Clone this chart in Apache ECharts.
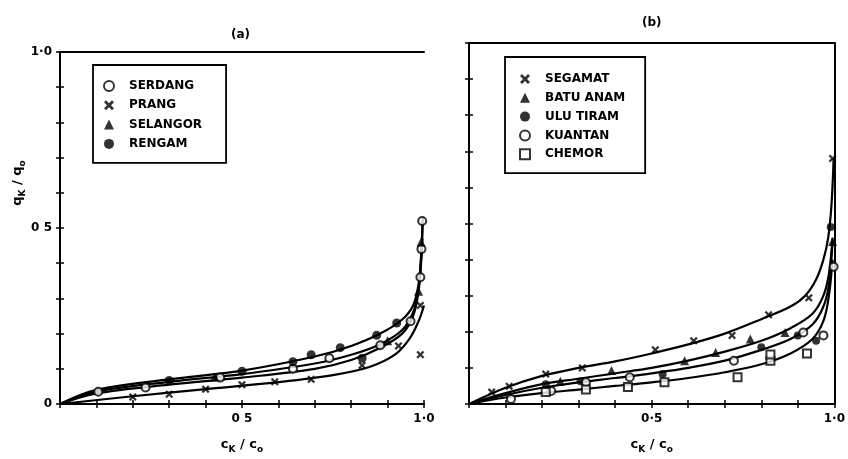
<!DOCTYPE html>
<html>
<head>
<meta charset="utf-8">
<script src="https://cdn.jsdelivr.net/npm/echarts@6/dist/echarts.min.js"></script>
<style>html,body{margin:0;padding:0;background:#fff;}#c{width:848px;height:459px;}</style>
</head>
<body>
<div id="c"></div>
<script>
// ---------- data ----------
const tickValues = [0, 0.5, 1];
const aYTickLabels = ['0', '0 5', '1·0'];
const aXTickLabels = ['', '0 5', '1·0'];
const bXTickLabels = ['', '0·5', '1·0'];
const bYTickLabels = ['', '', ''];

// panel (a) measured points
const serdang = [[0.105,0.035],[0.235,0.047],[0.44,0.075],[0.64,0.10],[0.74,0.13],[0.88,0.167],[0.963,0.235],[0.99,0.36],[0.993,0.44],[0.995,0.52]];
const prang = [[0.2,0.02],[0.3,0.028],[0.4,0.042],[0.5,0.055],[0.59,0.063],[0.69,0.07],[0.83,0.11],[0.93,0.165],[0.99,0.14],[0.99,0.28]];
const selangor = [[0.425,0.077],[0.9,0.18],[0.985,0.32],[0.992,0.46]];
const rengam = [[0.3,0.067],[0.5,0.093],[0.64,0.12],[0.69,0.14],[0.77,0.16],[0.83,0.13],[0.87,0.195],[0.925,0.23]];
// panel (a) fitted curves
const curveRengam = [[0,0],[0.1,0.04],[0.3,0.07],[0.5,0.095],[0.7,0.135],[0.8,0.165],[0.88,0.2],[0.94,0.24],[0.97,0.28],[0.985,0.34],[0.992,0.42],[0.996,0.52]];
const curveSerdang = [[0,0],[0.1,0.035],[0.3,0.063],[0.5,0.085],[0.7,0.115],[0.8,0.14],[0.88,0.17],[0.94,0.21],[0.97,0.26],[0.985,0.33],[0.993,0.43],[0.997,0.53]];
const curveSelangor = [[0,0],[0.1,0.03],[0.3,0.055],[0.5,0.075],[0.7,0.1],[0.8,0.125],[0.88,0.16],[0.94,0.2],[0.97,0.25],[0.985,0.32],[0.992,0.4],[0.996,0.47]];
const curvePrang = [[0,0],[0.2,0.022],[0.4,0.042],[0.6,0.062],[0.75,0.082],[0.85,0.105],[0.92,0.14],[0.96,0.185],[0.985,0.235],[1.0,0.28]];

// panel (b) measured points
const segamat = [[0.062,0.033],[0.11,0.049],[0.21,0.083],[0.31,0.10],[0.51,0.15],[0.615,0.175],[0.72,0.19],[0.82,0.247],[0.93,0.294],[0.995,0.68]];
const batuAnam = [[0.25,0.063],[0.39,0.093],[0.59,0.12],[0.675,0.143],[0.77,0.18],[0.865,0.198],[0.995,0.45]];
const uluTiram = [[0.21,0.055],[0.305,0.063],[0.53,0.083],[0.80,0.157],[0.90,0.19],[0.95,0.175],[0.99,0.49]];
const kuantan = [[0.115,0.014],[0.225,0.036],[0.32,0.06],[0.44,0.074],[0.725,0.12],[0.915,0.198],[0.97,0.19],[0.998,0.38]];
const chemor = [[0.21,0.033],[0.32,0.04],[0.435,0.047],[0.535,0.06],[0.735,0.074],[0.825,0.12],[0.825,0.137],[0.925,0.14]];
// panel (b) fitted curves
const curveSegamat = [[0,0],[0.1,0.045],[0.2,0.078],[0.3,0.1],[0.4,0.118],[0.5,0.14],[0.6,0.165],[0.7,0.195],[0.8,0.235],[0.88,0.27],[0.92,0.3],[0.95,0.345],[0.97,0.4],[0.983,0.46],[0.992,0.55],[0.998,0.68]];
const curveBatu = [[0,0],[0.1,0.03],[0.2,0.055],[0.3,0.07],[0.4,0.085],[0.5,0.1],[0.6,0.12],[0.7,0.145],[0.8,0.175],[0.88,0.21],[0.94,0.25],[0.97,0.3],[0.985,0.36],[0.995,0.46]];
const curveUlu = [[0,0],[0.1,0.025],[0.2,0.045],[0.3,0.06],[0.4,0.072],[0.5,0.085],[0.6,0.1],[0.7,0.12],[0.8,0.15],[0.88,0.18],[0.94,0.22],[0.97,0.27],[0.985,0.33],[0.995,0.45]];
const curveChemor = [[0,0],[0.1,0.018],[0.2,0.03],[0.3,0.04],[0.4,0.05],[0.5,0.06],[0.6,0.072],[0.7,0.088],[0.8,0.11],[0.88,0.14],[0.94,0.18],[0.97,0.23],[0.985,0.3],[0.995,0.4]];

// ---------- chart ----------
const FONT = 'DejaVu Sans';
const X_SYMBOL = 'path://M0,2 L2,0 L5,3 L8,0 L10,2 L7,5 L10,8 L8,10 L5,7 L2,10 L0,8 L3,5 Z';

function fmt(labels) {
  return function (v) {
    for (let i = 0; i < tickValues.length; i++) if (Math.abs(v - tickValues[i]) < 1e-6) return labels[i];
    return '';
  };
}
function baseAxis(grid, pos, opts) {
  return Object.assign({
    type: 'value', gridIndex: grid, position: pos, min: 0, max: 1, interval: 0.1,
    axisLine: { show: true, onZero: false, lineStyle: { color: '#000', width: 2 } },
    axisTick: { show: true, inside: false, length: 4, lineStyle: { color: '#000', width: 1.5 } },
    axisLabel: { show: false },
    splitLine: { show: false }
  }, opts);
}
const labelStyle = { show: true, color: '#000', fontFamily: FONT, fontWeight: 'bold', fontSize: 12 };
const nameRich = {
  c: { fontFamily: FONT, fontWeight: 'bold', fontSize: 13, color: '#000', lineHeight: 18, verticalAlign: 'middle' },
  s: { fontFamily: FONT, fontWeight: 'bold', fontSize: 9, color: '#000', lineHeight: 18, verticalAlign: 'bottom' }
};
const innerTick = { show: true, inside: true, length: 4, lineStyle: { color: '#000', width: 1.5 } };

const xAxis = [
  baseAxis(0, 'bottom', { axisLabel: Object.assign({}, labelStyle, { margin: 9, formatter: fmt(aXTickLabels) }),
    name: '{c|c}{s|K}{c| / c}{s|o}', nameLocation: 'middle', nameGap: 32, nameTextStyle: { rich: nameRich } }),
  baseAxis(0, 'bottom', { axisLine: { show: false }, axisTick: innerTick }),
  baseAxis(0, 'top', { axisTick: { show: false } }),
  baseAxis(1, 'bottom', { axisLabel: Object.assign({}, labelStyle, { margin: 9, formatter: fmt(bXTickLabels) }),
    name: '{c|c}{s|K}{c| / c}{s|o}', nameLocation: 'middle', nameGap: 32, nameTextStyle: { rich: nameRich } }),
  baseAxis(1, 'bottom', { axisLine: { show: false }, axisTick: innerTick }),
  baseAxis(1, 'top', { axisTick: { show: false } })
];
const yAxis = [
  baseAxis(0, 'left', { axisLabel: Object.assign({}, labelStyle, { margin: 8, formatter: fmt(aYTickLabels) }),
    name: '{c|q}{s|K}{c| / q}{s|o}', nameLocation: 'middle', nameGap: 32, nameRotate: 90,
    nameTextStyle: { rich: nameRich, padding: [0, 0, 0, 90] } }),
  baseAxis(0, 'left', { axisLine: { show: false }, axisTick: innerTick }),
  baseAxis(1, 'left', { axisLabel: Object.assign({}, labelStyle, { formatter: fmt(bYTickLabels) }) }),
  baseAxis(1, 'left', { axisLine: { show: false }, axisTick: innerTick }),
  baseAxis(1, 'right', { axisTick: { show: false } })
];

function scatter(name, data, symbol, size, xi, yi) {
  return { name, type: 'scatter', data, symbol, symbolSize: size, xAxisIndex: xi, yAxisIndex: yi, z: 5,
    itemStyle: { color: '#000', borderColor: '#000', borderWidth: symbol.indexOf('empty') === 0 ? 1.8 : 0 } };
}
function curve(data, xi, yi) {
  return { type: 'line', data, xAxisIndex: xi, yAxisIndex: yi, smooth: 0.35, showSymbol: false, symbol: 'none',
    silent: true, z: 3, lineStyle: { color: '#000', width: 2.2 } };
}

const series = [
  curve(curveRengam, 0, 0), curve(curveSerdang, 0, 0), curve(curveSelangor, 0, 0), curve(curvePrang, 0, 0),
  scatter('SERDANG', serdang, 'emptyCircle', 8, 0, 0),
  scatter('PRANG', prang, X_SYMBOL, 8, 0, 0),
  scatter('SELANGOR', selangor, 'triangle', 9, 0, 0),
  scatter('RENGAM', rengam, 'circle', 9, 0, 0),
  curve(curveSegamat, 3, 2), curve(curveBatu, 3, 2), curve(curveUlu, 3, 2), curve(curveChemor, 3, 2),
  scatter('SEGAMAT', segamat, X_SYMBOL, 8, 3, 2),
  scatter('BATU ANAM', batuAnam, 'triangle', 9, 3, 2),
  scatter('ULU TIRAM', uluTiram, 'circle', 8, 3, 2),
  scatter('KUANTAN', kuantan, 'emptyCircle', 8, 3, 2),
  scatter('CHEMOR', chemor, 'emptyRect', 8, 3, 2)
];

function legend(names, left, top, gap, pad) {
  return { data: names, orient: 'vertical', left, top, itemWidth: 10, itemHeight: 10, itemGap: gap,
    padding: pad, borderColor: '#000', borderWidth: 1.8, selectedMode: false,
    textStyle: { color: '#000', fontFamily: FONT, fontWeight: 'bold', fontSize: 12, lineHeight: 10, padding: [0, 0, 0, 10] } };
}

const option = {
  animation: false,
  backgroundColor: '#fff',
  title: [
    { text: '(a)', left: 226, top: 24, textStyle: { fontFamily: FONT, fontWeight: 'bold', fontSize: 12, color: '#000' } },
    { text: '(b)', left: 637, top: 12, textStyle: { fontFamily: FONT, fontWeight: 'bold', fontSize: 12, color: '#000' } }
  ],
  grid: [
    { left: 60, right: 424, top: 52, bottom: 47 },
    { left: 469, right: 11, top: 43, bottom: 52 }
  ],
  legend: [
    legend(['SERDANG', 'PRANG', 'SELANGOR', 'RENGAM'], 93, 65, 7.3, [15, 24, 13, 10]),
    legend(['SEGAMAT', 'BATU ANAM', 'ULU TIRAM', 'KUANTAN', 'CHEMOR'], 505, 57, 6.8, [16, 20, 13, 14])
  ],
  xAxis, yAxis, series
};

const chart = echarts.init(document.getElementById('c'), null, { renderer: 'canvas' });
chart.setOption(option);
</script>
</body>
</html>
